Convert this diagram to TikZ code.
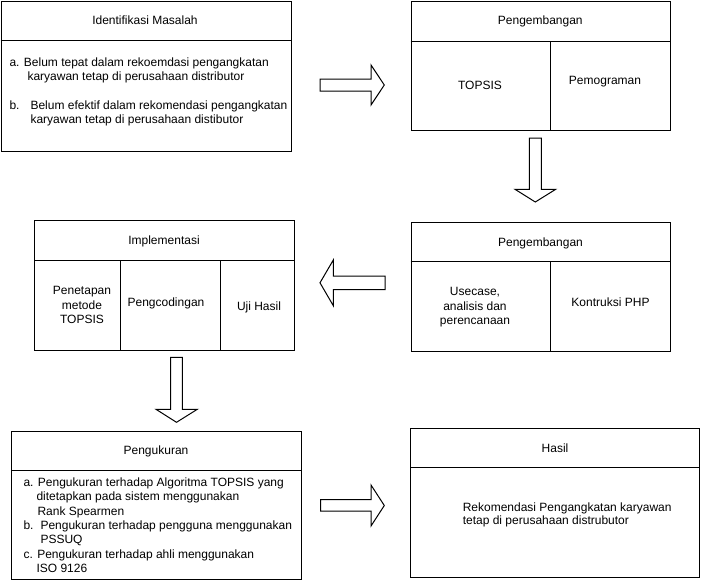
\documentclass[tikz,border=0pt]{standalone}
\usepackage{fontspec}
\setmainfont{Liberation Sans}
\begin{document}
\begin{tikzpicture}[x=1pt,y=-1pt,line width=1pt,
  box/.style={draw,rectangle,anchor=north west,inner sep=0pt},
  txt/.style={inner sep=0pt,text height=8.6pt,text depth=0pt,font=\fontsize{12}{14.4}\selectfont,align=center},
  mtxt/.style={inner sep=0pt,font=\fontsize{12}{14.4}\selectfont,align=center},
  ltxt/.style={mtxt,align=left,anchor=west},
  barrow/.style={draw,line join=miter,fill=white}]
\useasboundingbox (0,0) rectangle (701,581);

% boxes
\node[box,minimum width=290pt,minimum height=150pt] (b1) at (0.5,0.5) {};
\draw ([yshift=-40pt]b1.north west) -- ([yshift=-40pt]b1.north east);

\node[box,minimum width=259.3pt,minimum height=129.5pt] (b2) at (410.7,0.5) {};
\draw ([yshift=-40.5pt]b2.north west) -- ([yshift=-40.5pt]b2.north east);
\draw ([xshift=140pt,yshift=-40.5pt]b2.north west) -- ([xshift=140pt]b2.south west);

\node[box,minimum width=260pt,minimum height=130pt] (b3) at (34.3,220) {};
\draw ([yshift=-40.5pt]b3.north west) -- ([yshift=-40.5pt]b3.north east);
\draw ([xshift=86pt,yshift=-40.5pt]b3.north west) -- ([xshift=86pt]b3.south west);
\draw ([xshift=186.4pt,yshift=-40.5pt]b3.north west) -- ([xshift=186.4pt]b3.south west);

\node[box,minimum width=259.3pt,minimum height=129.3pt] (b4) at (410.7,221.7) {};
\draw ([yshift=-40pt]b4.north west) -- ([yshift=-40pt]b4.north east);
\draw ([xshift=140pt,yshift=-40pt]b4.north west) -- ([xshift=140pt]b4.south west);

\node[box,minimum width=290pt,minimum height=148.6pt] (b5) at (11,430.7) {};
\draw ([yshift=-39.3pt]b5.north west) -- ([yshift=-39.3pt]b5.north east);

\node[box,minimum width=289.3pt,minimum height=148.4pt] (b6) at (410,428.3) {};
\draw ([yshift=-39.4pt]b6.north west) -- ([yshift=-39.4pt]b6.north east);

% block arrows
\draw[barrow] (320,79) -- (371,79) -- (371,65) -- (384.3,85) -- (371,105) -- (371,91) -- (320,91) -- cycle;
\draw[barrow] (529.3,138) -- (541.3,138) -- (541.3,189.3) -- (555.7,189.3) -- (535.3,202) -- (515,189.3) -- (529.3,189.3) -- cycle;
\draw[barrow] (385,276) -- (333.3,276) -- (333.3,260) -- (320,282.8) -- (333.3,305.7) -- (333.3,289.5) -- (385,289.5) -- cycle;
\draw[barrow] (170.7,357.3) -- (182.3,357.3) -- (182.3,409.3) -- (197.3,409.3) -- (176.5,422.3) -- (156,409.3) -- (170.7,409.3) -- cycle;
\draw[barrow] (320.7,499.5) -- (371,499.5) -- (371,485) -- (384.3,505.5) -- (371,526) -- (371,511) -- (320.7,511) -- cycle;

% texts
\node[txt] (t1) at (145,20) {Identifikasi Masalah};
\node[ltxt] (t1b) at (9,92) {a. Belum tepat dalam rekoemdasi pengangkatan\\
\hspace*{18pt}karyawan tetap di perusahaan distributor\\[14.4pt]
b.\hspace{11pt}Belum efektif dalam rekomendasi pengangkatan\\
\hspace*{21pt}karyawan tetap di perusahaan distibutor};

\node[txt] (t2) at (540.3,20) {Pengembangan};
\node[txt] (t2a) at (480,85) {TOPSIS};
\node[txt] (t2b) at (605,80) {Pemograman};

\node[txt] (t3) at (164,240.5) {Implementasi};
\node[mtxt] (t3a) at (82,305.2) {Penetapan\\metode\\TOPSIS};
\node[txt] (t3b) at (166,302) {Pengcodingan};
\node[txt] (t3c) at (259,306) {Uji Hasil};

\node[txt] (t4) at (540.5,241.7) {Pengembangan};
\node[mtxt] (t4a) at (475,307.2) {Usecase,\\analisis dan\\perencanaan};
\node[txt] (t4b) at (610.5,301.7) {Kontruksi PHP};

\node[txt] (t5) at (156,450.5) {Pengukuran};
\node[ltxt] (t5b) at (23,525.2) {a. Pengukuran terhadap Algoritma TOPSIS yang\\
\hspace*{13pt}ditetapkan pada sistem menggunakan\\
\hspace*{14pt}Rank Spearmen\\
b.\hspace{7pt}Pengukuran terhadap pengguna menggunakan\\
\hspace*{17pt}PSSUQ\\
c. Pengukuran terhadap ahli menggunakan\\
\hspace*{13pt}ISO 9126};

\node[txt] (t6) at (555,448.3) {Hasil};
\node[ltxt] (t6b) at (462.3,515) {Rekomendasi Pengangkatan karyawan\\[-1.5pt]
tetap di perusahaan distrubutor};
\end{tikzpicture}
\end{document}
